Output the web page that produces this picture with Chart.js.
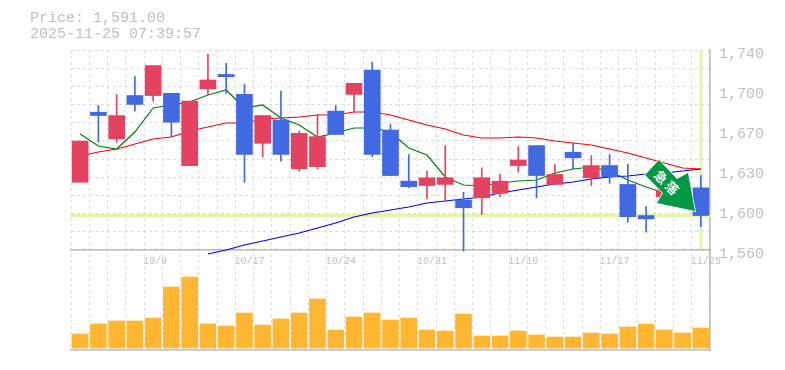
<!DOCTYPE html>
<html>
<head>
<meta charset="utf-8">
<title>Price chart</title>
<script src="https://cdn.jsdelivr.net/npm/chart.js@4"></script>
<style>
  html, body { margin: 0; padding: 0; background: #fff; }
  canvas { display: block; }
</style>
</head>
<body>
<canvas id="chart_1" width="785" height="370"></canvas>
<script>
const dates = ['10/3','10/6','10/7','10/8','10/9','10/10','10/14','10/15','10/16','10/17','10/20','10/21','10/22','10/23','10/24','10/27','10/28','10/29','10/30','10/31','11/4','11/5','11/6','11/7','11/10','11/11','11/12','11/13','11/14','11/17','11/18','11/19','11/20','11/21','11/25'];
const shownDates = ['10/9','10/17','10/24','10/31','11/10','11/17','11/25'];

const opens  = [1621,1684,1660,1699,1699,1701,1636,1705,1718,1700,1656,1677,1633,1635,1685,1700,1722,1668,1622,1618,1619,1605,1607,1611,1636,1654,1619,1648,1625,1636,1619,1591,1608,1620,1616];
const closes = [1658,1681,1681,1691,1726,1675,1694,1713,1716,1646,1681,1646,1665,1662,1664,1710,1646,1627,1617,1625,1625,1598,1625,1622,1641,1627,1628,1643,1636,1626,1590,1588,1614,1614,1591];
const highs  = [1658,1690,1700,1716,1726,1701,1694,1736,1728,1709,1681,1703,1667,1682,1690,1710,1729,1673,1646,1631,1654,1612,1634,1628,1653,1654,1637,1656,1645,1646,1637,1599,1616,1624,1627];
const lows   = [1621,1657,1657,1685,1694,1662,1636,1700,1701,1621,1644,1640,1631,1633,1664,1684,1644,1627,1616,1606,1604,1559,1592,1608,1630,1607,1619,1633,1618,1620,1585,1576,1606,1610,1581];

const volumes = [14,24,27,27,30,61,71,24,22,35,23,29,35,49,18,31,35,28,30,18,17,34,12,12,17,13,11,11,15,14,21,24,18,15,20];

const maShort = [1664.4,1653.6,1650.9,1666.2,1687.8,1690.5,1693.2,1699.5,1704,1687.8,1690.5,1678.8,1672.5,1661.7,1665.3,1669.8,1669.8,1666.2,1651.8,1645.5,1625.7,1618.5,1617.6,1620.3,1622.1,1623,1629.3,1632.9,1634.7,1631.1,1623,1616.7,1611.3,1605,1600.5];
const maMid   = [1644.6,1648.2,1650.9,1655.4,1659.9,1661.7,1667.1,1670.7,1674.3,1674.3,1677.9,1678.8,1679.7,1681.5,1681.5,1684.2,1684.2,1681.5,1677,1672.5,1668.9,1663.5,1660.8,1660.8,1661.7,1660.8,1658.1,1656.3,1654.5,1650.9,1647.3,1642.8,1638.3,1633.8,1632.9];
const maLong  = [null,null,null,null,null,null,null,1556.4,1560,1564.5,1568.1,1571.7,1575.3,1579.8,1584.3,1589.7,1593.3,1596,1598.7,1602.3,1604.1,1605.9,1607.7,1611.3,1614,1616.7,1619.4,1621.2,1623.9,1625.7,1626.6,1628.4,1629.3,1631.1,1632.9];

const priceTicks  = [1740,1704,1668,1632,1596,1560];
const priceLabels = ['1,740','1,700','1,670','1,630','1,600','1,560'];
const gridTicks   = [1740,1723.6,1707.3,1690.9,1674.5,1658.2,1641.8,1625.5,1609.1,1592.7,1576.4,1560];

const lastPrice = 1591;
const titleLines = ['Price: 1,591.00', '2025-11-25 07:39:57'];
const arrowText = ['急', '落'];

const RED = '#e34360';
const BLUE = '#4169e1';
const GRAY = '#c0c0c0';
const PALE = '#e4f5a8';
const MONO = '"Liberation Mono", monospace';

const candleColors = opens.map((o, i) => closes[i] >= o ? RED : BLUE);

// pale guide lines behind the candles
const guideLines = {
    id: 'guideLines',
    beforeDatasetsDraw(chart) {
        const { ctx, chartArea, scales } = chart;
        const y = scales.y.getPixelForValue(lastPrice);
        const x = scales.x.getPixelForValue(dates.length - 1);
        ctx.save();
        ctx.strokeStyle = PALE;
        ctx.lineWidth = 3;
        ctx.beginPath();
        ctx.moveTo(chartArea.left - 1, y);
        ctx.lineTo(chartArea.right + 1, y);
        ctx.moveTo(x, chartArea.top + 1);
        ctx.lineTo(x, scales.y.getPixelForValue(1561));
        ctx.stroke();
        ctx.restore();
    }
};

// header text and the green arrow
const overlay = {
    id: 'overlay',
    afterDraw(chart) {
        const ctx = chart.ctx;
        ctx.save();
        ctx.fillStyle = GRAY;
        ctx.font = '15px ' + MONO;
        ctx.textBaseline = 'alphabetic';
        ctx.fillText(titleLines[0], 30, 22);
        ctx.fillText(titleLines[1], 30, 38);

        ctx.beginPath();
        ctx.moveTo(659, 160);
        ctx.lineTo(645, 175);
        ctx.lineTo(663, 193);
        ctx.lineTo(657, 203);
        ctx.lineTo(695, 211);
        ctx.lineTo(688, 173);
        ctx.lineTo(677, 179);
        ctx.closePath();
        ctx.fillStyle = '#009944';
        ctx.strokeStyle = '#fff';
        ctx.lineWidth = 1.5;
        ctx.stroke();
        ctx.fill();

        ctx.fillStyle = '#fff';
        ctx.font = 'bold 13px "Noto Sans CJK JP"';
        ctx.textAlign = 'center';
        ctx.textBaseline = 'middle';
        [[661, 177], [672, 188]].forEach((p, i) => {
            ctx.save();
            ctx.translate(p[0], p[1]);
            ctx.rotate(Math.PI / 4);
            ctx.fillText(arrowText[i], 0, 0);
            ctx.restore();
        });
        ctx.restore();
    }
};

const config_1 = {
    data: {
        labels: dates,
        datasets: [
            { type: 'bar', yAxisID: 'vol', data: volumes, backgroundColor: '#ffb733', barThickness: 16, order: 5 },
            { type: 'line', data: maLong, borderColor: '#0000ff', borderWidth: 1.2, pointRadius: 0, tension: 0, order: 4 },
            { type: 'line', data: maMid, borderColor: '#ff0000', borderWidth: 1.2, pointRadius: 0, tension: 0, order: 3 },
            { type: 'line', data: maShort, borderColor: '#008000', borderWidth: 1.2, pointRadius: 0, tension: 0, order: 2 },
            { type: 'bar', data: dates.map((d, i) => [lows[i], highs[i]]), backgroundColor: candleColors, barThickness: 1, grouped: false, order: 1 },
            { type: 'bar', data: dates.map((d, i) => [opens[i], closes[i]]), backgroundColor: candleColors, barThickness: 16, grouped: false, order: 0 }
        ]
    },
    options: {
        responsive: false,
        animation: false,
        layout: { padding: { left: 71, top: 50, right: 0, bottom: 20 } },
        plugins: { legend: { display: false }, title: { display: false }, tooltip: { enabled: false } },
        datasets: { bar: { grouped: false, borderWidth: 0 } },
        scales: {
            x: {
                position: { y: 1560 },
                offset: true,
                grid: { offset: true, color: '#dddddd', drawTicks: false },
                border: { color: '#bbbbbb', width: 1.5, dash: [3, 3] },
                ticks: {
                    autoSkip: false,
                    maxRotation: 0,
                    padding: 5,
                    align: 'start',
                    labelOffset: -10,
                    color: GRAY,
                    font: { family: MONO, size: 10 },
                    callback: function(value) {
                        const d = this.getLabelForValue(value);
                        return shownDates.includes(d) ? d : '';
                    }
                }
            },
            xBottom: {
                position: 'bottom',
                type: 'category',
                grid: { display: false },
                border: { color: '#bbbbbb', width: 1.5 },
                ticks: { display: false },
                afterFit(scale) { scale.height = 0; }
            },
            y: {
                position: 'right',
                min: 1470,
                max: 1740,
                grid: { color: '#dddddd', drawTicks: false },
                border: { display: false, dash: [3, 3] },
                ticks: { display: false },
                afterBuildTicks(scale) { scale.ticks = gridTicks.map(v => ({ value: v })); },
                afterFit(scale) { scale.width = 0; }
            },
            yLabels: {
                position: 'right',
                min: 1470,
                max: 1740,
                grid: { display: false, drawTicks: false },
                border: { color: '#bbbbbb', width: 1.5 },
                ticks: {
                    autoSkip: false,
                    padding: 9,
                    labelOffset: 4,
                    color: GRAY,
                    font: { family: MONO, size: 15 },
                    callback: function(value) { return priceLabels[priceTicks.indexOf(value)]; }
                },
                afterBuildTicks(scale) { scale.ticks = priceTicks.map(v => ({ value: v })); },
                afterFit(scale) { scale.width = 75; }
            },
            vol: {
                display: false,
                min: -2,
                max: 298
            }
        }
    },
    plugins: [guideLines, overlay]
};

var chart_1 = new Chart(document.getElementById('chart_1'), config_1);
</script>
</body>
</html>
